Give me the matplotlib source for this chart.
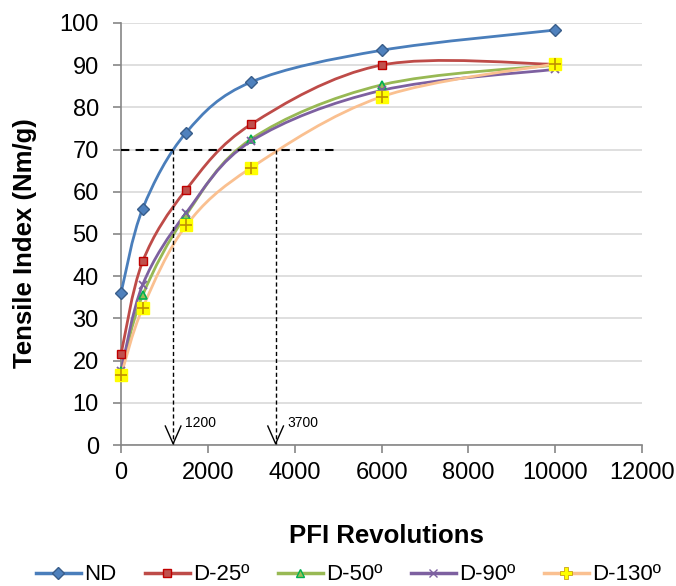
import matplotlib
matplotlib.use("Agg")
import matplotlib.pyplot as plt
from matplotlib.path import Path
from matplotlib.patches import PathPatch
from matplotlib.lines import Line2D

plt.rcParams['font.family'] = ['Liberation Sans', 'DejaVu Sans']

revs = [0, 500, 1500, 3000, 6000, 10000]
nd = [36, 56, 74, 86, 93.5, 98.3]
d25 = [21.5, 43.5, 60.5, 76, 90, 90.2]
d50 = [17.5, 35.5, 54.5, 72.5, 85.3, 90]
d90 = [17.5, 38, 55, 72, 84, 89]
d130 = [16.5, 32.5, 52, 65.7, 82.5, 90.3]

names = ['ND', 'D-25º', 'D-50º', 'D-90º', 'D-130º']
series = [nd, d25, d50, d90, d130]
colors = ['#4A7EBB', '#BE4B48', '#98B954', '#7D60A0', '#FAC090']

target = 70
cross_x = [1200, 3560]
cross_lbl = ['1200', '3700']
h_end = 5000


def smooth_path(xs, ys, sx, sy):
    # Excel-style smoothed line: Catmull-Rom -> cubic bezier (in scaled space)
    px = [x / sx for x in xs]
    py = [y / sy for y in ys]
    verts = [(xs[0], ys[0])]
    codes = [Path.MOVETO]
    n = len(px)
    for i in range(n - 1):
        p0 = (px[i - 1], py[i - 1]) if i > 0 else (px[i], py[i])
        p1 = (px[i], py[i])
        p2 = (px[i + 1], py[i + 1])
        p3 = (px[i + 2], py[i + 2]) if i + 2 < n else p2
        c1 = (p1[0] + (p2[0] - p0[0]) / 6, p1[1] + (p2[1] - p0[1]) / 6)
        c2 = (p2[0] - (p3[0] - p1[0]) / 6, p2[1] - (p3[1] - p1[1]) / 6)
        for c in (c1, c2, p2):
            verts.append((c[0] * sx, c[1] * sy))
        codes += [Path.CURVE4] * 3
    return Path(verts, codes)


fig = plt.figure(figsize=(6.76, 5.86), dpi=100)
ax = fig.add_axes([0.179, 0.2406, 0.771, 0.7204])
ax.set_xlim(0, 12000)
ax.set_ylim(0, 100)

sx = 12000 / 521.0
sy = 100 / 422.0
for vals, c in zip(series, colors):
    ax.add_patch(PathPatch(smooth_path(revs, vals, sx, sy), fill=False,
                           edgecolor=c, lw=2.0, zorder=3, capstyle='round', clip_on=False))

mk = dict(ls='none', zorder=4, clip_on=False)
ax.plot(revs, nd, marker='D', ms=6, mfc='#4F81BD', mec='#385D8A', mew=1, **mk)
ax.plot(revs, d25, marker='s', ms=6, mfc='#C0504D', mec='#C00000', mew=1, **mk)
ax.plot(revs, d50, marker='^', ms=6, mfc='#9BBB59', mec='#00B050', mew=1.2, **mk)
ax.plot(revs, d90, marker='x', ms=6, mec='#7D60A0', mew=1.3, **mk)
ax.plot(revs, d130, marker='s', ms=9, mfc='#FFFF00', mec='#FFFF00', **mk)
ax.plot(revs, d130, marker='+', ms=8, mec='#C09000', mew=1.2, ls='none', zorder=5, clip_on=False)

# reference lines
ax.plot([0, h_end], [target, target], color='black', lw=1.5, ls=(0, (4, 3)), zorder=6)
for xv, lb in zip(cross_x, cross_lbl):
    ax.plot([xv, xv], [target, 0.3], color='black', lw=1.0, ls=(0, (3, 2)), zorder=6)
    ax.plot([xv - 180, xv, xv + 180], [4.5, 0.3, 4.5], color='black', lw=1.0, zorder=6)
    ax.text(xv + 280, 4.3, lb, fontsize=10, zorder=6)

ax.set_xticks(range(0, 12001, 2000))
ax.set_yticks(range(0, 101, 10))
ax.tick_params(axis='both', labelsize=17, length=6, color='#868686', width=1.2)
ax.tick_params(axis='x', pad=6)
ax.tick_params(axis='y', pad=10)
ax.yaxis.grid(True, color='#D9D9D9', lw=1.2)
ax.set_axisbelow(True)
for s in ['top', 'right']:
    ax.spines[s].set_visible(False)
for s in ['left', 'bottom']:
    ax.spines[s].set_color('#868686')
    ax.spines[s].set_linewidth(1.2)

fig.text(25 / 676, 1 - 243 / 586, 'Tensile Index (Nm/g)', rotation=90, fontsize=18.5,
         fontweight='bold', ha='center', va='center')
fig.text(0.571, 1 - 543 / 586, 'PFI Revolutions', fontsize=18.5, fontweight='bold',
         ha='center', va='baseline')

handles = [
    Line2D([], [], color=colors[0], lw=2.5, marker='D', ms=6, mfc='#4F81BD', mec='#385D8A'),
    Line2D([], [], color=colors[1], lw=2.5, marker='s', ms=6, mfc='#C0504D', mec='#C00000'),
    Line2D([], [], color=colors[2], lw=2.5, marker='^', ms=6, mfc='#9BBB59', mec='#00B050'),
    Line2D([], [], color=colors[3], lw=2.5, marker='x', ms=6, mec='#7D60A0'),
    Line2D([], [], color=colors[4], lw=2.5, marker='P', ms=8, mfc='#FFFF00', mec='#C09000', mew=0.5),
]
fig.legend(handles, names, loc='center', bbox_to_anchor=(0.5156, 0.019), ncol=5, frameon=False,
           fontsize=16, handlelength=2.0, handletextpad=0.15, columnspacing=1.3,
           borderpad=0, borderaxespad=0)

fig.savefig('out.png', dpi=100)
